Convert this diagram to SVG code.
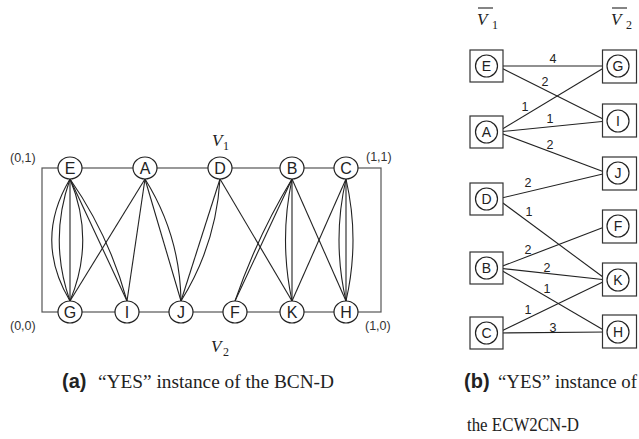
<svg xmlns="http://www.w3.org/2000/svg" width="639" height="439" viewBox="0 0 639 439">
<style>
.frame{fill:none;stroke:#555;stroke-width:1.2}
.e{fill:none;stroke:#222;stroke-width:1.1}
.n ellipse,.n circle{fill:#fff;stroke:#222;stroke-width:1.2}
.n rect{fill:#fff;stroke:#333;stroke-width:1.2}
.lt{font-family:"Liberation Sans",Arial,sans-serif;font-size:16px;fill:#222;text-anchor:middle}
.rt{font-family:"Liberation Sans",Arial,sans-serif;font-size:14px;fill:#222;text-anchor:middle}
.w{font-family:"Liberation Sans",Arial,sans-serif;font-size:12.5px;fill:#222;text-anchor:middle}
.co{font-family:"Liberation Sans",Arial,sans-serif;font-size:12.5px;fill:#333}
.mv{font-family:"Liberation Serif","Times New Roman",serif;font-style:italic;font-size:17px;fill:#222}
.ms{font-family:"Liberation Serif","Times New Roman",serif;font-size:12px;fill:#222}
.cap{font-family:"Liberation Serif","Times New Roman",serif;font-size:18px;fill:#222}
.capb{font-family:"Liberation Sans",Arial,sans-serif;font-weight:bold;font-size:20px;fill:#222}
</style>

<!-- (a) left diagram frame -->
<rect class="frame" x="42" y="168" width="339" height="144"/>

<g id="connectors-a">
  <!-- E-G x4 -->
  <path class="e" d="M70 179 L70 301"/>
  <path class="e" d="M70 179 Q33.5 240 70 301"/>
  <path class="e" d="M70 179 Q48.5 240 70 301"/>
  <path class="e" d="M70 179 Q95.5 240 70 301"/>
  <!-- E-I x2 -->
  <path class="e" d="M70 179 L127 301"/>
  <path class="e" d="M70 179 Q109 235 127 301"/>
  <!-- A-G, A-I -->
  <path class="e" d="M145 179 L70 301"/>
  <path class="e" d="M145 179 L127 301"/>
  <!-- A-J x2 -->
  <path class="e" d="M145 179 L181 301"/>
  <path class="e" d="M145 179 Q180 235 181 301"/>
  <!-- D-J x2 -->
  <path class="e" d="M220 179 L181 301"/>
  <path class="e" d="M220 179 Q216 245 181 301"/>
  <!-- D-K -->
  <path class="e" d="M220 179 L292 301"/>
  <!-- B-F x2 -->
  <path class="e" d="M292 179 L235 301"/>
  <path class="e" d="M292 179 Q257 237 235 301"/>
  <!-- B-K x2 -->
  <path class="e" d="M292 179 L292 301"/>
  <path class="e" d="M292 179 Q279 240 292 301"/>
  <!-- B-H -->
  <path class="e" d="M292 179 L346 301"/>
  <!-- C-K -->
  <path class="e" d="M346 179 L292 301"/>
  <!-- C-H x3 -->
  <path class="e" d="M346 179 L346 301"/>
  <path class="e" d="M346 179 Q332 240 346 301"/>
  <path class="e" d="M346 179 Q360 240 346 301"/>
</g>

<g id="a-E" class="n"><ellipse cx="70" cy="168" rx="12" ry="11"/><text class="lt" x="70" y="173.8">E</text></g>
<g id="a-A" class="n"><ellipse cx="145" cy="168" rx="12" ry="11"/><text class="lt" x="145" y="173.8">A</text></g>
<g id="a-D" class="n"><ellipse cx="220" cy="168" rx="12" ry="11"/><text class="lt" x="220" y="173.8">D</text></g>
<g id="a-B" class="n"><ellipse cx="292" cy="168" rx="12" ry="11"/><text class="lt" x="292" y="173.8">B</text></g>
<g id="a-C" class="n"><ellipse cx="346" cy="168" rx="12" ry="11"/><text class="lt" x="346" y="173.8">C</text></g>

<g id="a-G" class="n"><ellipse cx="70" cy="312" rx="12" ry="11"/><text class="lt" x="70" y="317.8">G</text></g>
<g id="a-I" class="n"><ellipse cx="127" cy="312" rx="12" ry="11"/><text class="lt" x="127" y="317.8">I</text></g>
<g id="a-J" class="n"><ellipse cx="181" cy="312" rx="12" ry="11"/><text class="lt" x="181" y="317.8">J</text></g>
<g id="a-F" class="n"><ellipse cx="235" cy="312" rx="12" ry="11"/><text class="lt" x="235" y="317.8">F</text></g>
<g id="a-K" class="n"><ellipse cx="292" cy="312" rx="12" ry="11"/><text class="lt" x="292" y="317.8">K</text></g>
<g id="a-H" class="n"><ellipse cx="346" cy="312" rx="12" ry="11"/><text class="lt" x="346" y="317.8">H</text></g>

<text class="co" x="10" y="162">(0,1)</text>
<text class="co" x="366" y="161">(1,1)</text>
<text class="co" x="10" y="330">(0,0)</text>
<text class="co" x="365" y="330">(1,0)</text>

<text class="mv" x="212" y="146">V</text><text class="ms" x="223" y="150">1</text>
<text class="mv" x="211" y="352">V</text><text class="ms" x="223" y="356">2</text>

<text class="capb" x="62" y="388">(a)</text>
<text class="cap" x="98" y="388" textLength="236" lengthAdjust="spacingAndGlyphs">“YES” instance of the BCN-D</text>

<!-- (b) right diagram -->
<text class="mv" x="477" y="25">V</text><line x1="478" y1="8" x2="493" y2="8" stroke="#222" stroke-width="1.1"/><text class="ms" x="492" y="29">1</text>
<text class="mv" x="611" y="25">V</text><line x1="612" y1="8" x2="627" y2="8" stroke="#222" stroke-width="1.1"/><text class="ms" x="626" y="29">2</text>

<g id="connectors-b">
  <line class="e" x1="497.5" y1="66" x2="607" y2="66"/>
  <line class="e" x1="497.5" y1="66" x2="607" y2="121"/>
  <line class="e" x1="497.5" y1="132" x2="607" y2="66"/>
  <line class="e" x1="497.5" y1="132" x2="607" y2="121"/>
  <line class="e" x1="497.5" y1="132" x2="607" y2="173"/>
  <line class="e" x1="497.5" y1="199" x2="607" y2="173"/>
  <line class="e" x1="497.5" y1="199" x2="607" y2="280"/>
  <line class="e" x1="497.5" y1="268" x2="607" y2="226"/>
  <line class="e" x1="497.5" y1="268" x2="607" y2="280"/>
  <line class="e" x1="497.5" y1="268" x2="607" y2="332"/>
  <line class="e" x1="497.5" y1="333" x2="607" y2="280"/>
  <line class="e" x1="497.5" y1="333" x2="607" y2="332"/>
</g>

<g id="b-weights">
  <text class="w" x="553" y="63">4</text>
  <text class="w" x="545" y="86">2</text>
  <text class="w" x="525" y="111">1</text>
  <text class="w" x="550" y="123">1</text>
  <text class="w" x="550" y="149">2</text>
  <text class="w" x="528" y="187">2</text>
  <text class="w" x="529" y="216">1</text>
  <text class="w" x="528" y="254">2</text>
  <text class="w" x="547" y="272">2</text>
  <text class="w" x="547" y="293">1</text>
  <text class="w" x="528" y="314">1</text>
  <text class="w" x="553" y="332">3</text>
</g>

<g id="b-E" class="n"><rect x="470" y="50" width="33" height="32"/><circle cx="486.5" cy="66" r="11"/><text class="rt" x="486.5" y="71">E</text></g>
<g id="b-A" class="n"><rect x="470" y="116" width="33" height="32"/><circle cx="486.5" cy="132" r="11"/><text class="rt" x="486.5" y="137">A</text></g>
<g id="b-D" class="n"><rect x="470" y="183" width="33" height="32"/><circle cx="486.5" cy="199" r="11"/><text class="rt" x="486.5" y="204">D</text></g>
<g id="b-B" class="n"><rect x="470" y="252" width="33" height="32"/><circle cx="486.5" cy="268" r="11"/><text class="rt" x="486.5" y="273">B</text></g>
<g id="b-C" class="n"><rect x="470" y="317" width="33" height="32"/><circle cx="486.5" cy="333" r="11"/><text class="rt" x="486.5" y="338">C</text></g>

<g id="b-G" class="n"><rect x="602.5" y="50" width="34" height="33"/><circle cx="618" cy="66" r="11"/><text class="rt" x="618" y="71">G</text></g>
<g id="b-I" class="n"><rect x="602.5" y="104" width="34" height="33"/><circle cx="618" cy="121" r="11"/><text class="rt" x="618" y="126">I</text></g>
<g id="b-J" class="n"><rect x="602.5" y="157" width="34" height="33"/><circle cx="618" cy="173" r="11"/><text class="rt" x="618" y="178">J</text></g>
<g id="b-F" class="n"><rect x="602.5" y="210" width="34" height="33"/><circle cx="618" cy="226" r="11"/><text class="rt" x="618" y="231">F</text></g>
<g id="b-K" class="n"><rect x="602.5" y="263" width="34" height="33"/><circle cx="618" cy="280" r="11"/><text class="rt" x="618" y="285">K</text></g>
<g id="b-H" class="n"><rect x="602.5" y="315" width="34" height="33"/><circle cx="618" cy="332" r="11"/><text class="rt" x="618" y="337">H</text></g>

<text class="capb" x="464" y="388">(b)</text>
<text class="cap" x="498" y="388" textLength="139" lengthAdjust="spacingAndGlyphs">“YES” instance of</text>
<text class="cap" x="467" y="431" textLength="112" lengthAdjust="spacingAndGlyphs">the ECW2CN-D</text>
</svg>
